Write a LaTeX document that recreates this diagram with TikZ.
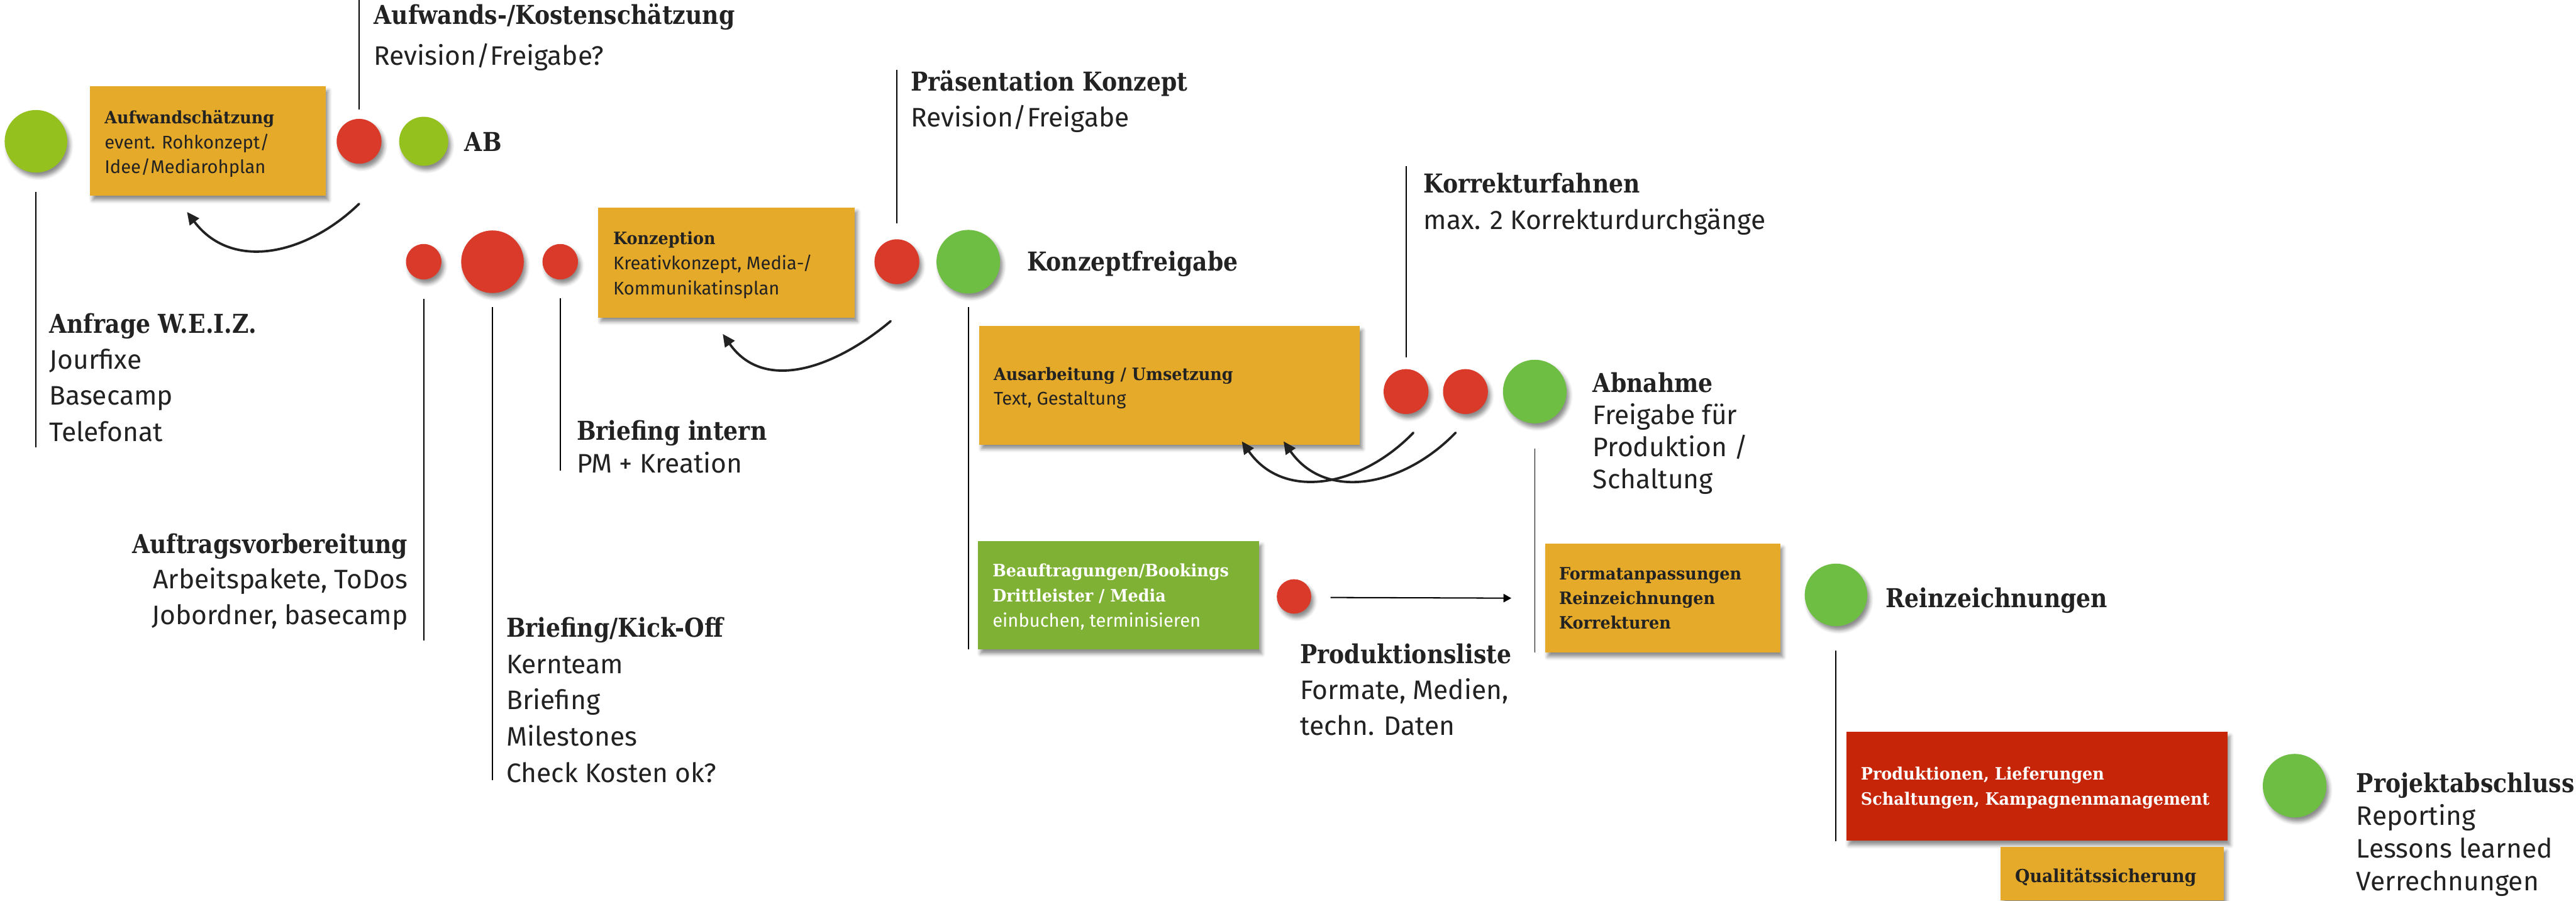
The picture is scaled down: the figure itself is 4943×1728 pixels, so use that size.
\documentclass[tikz,border=0pt]{standalone}
\usepackage{fontspec}
\setmainfont{Fira Sans}
\newfontfamily\headfont[FakeStretch=0.875]{DejaVu Serif}
\newfontfamily\cardfont[FakeStretch=0.94]{DejaVu Serif}
\usetikzlibrary{arrows.meta,shadows.blur,calc}

\definecolor{boxorange}{HTML}{E5AA2A}
\definecolor{dotred}{HTML}{D93A29}
\definecolor{limegreen}{HTML}{95C11F}
\definecolor{dotgreen}{HTML}{6FBE44}
\definecolor{boxgreen}{HTML}{7FB135}
\definecolor{boxred}{HTML}{C62507}
\definecolor{ink}{HTML}{222222}

% stacked lines with a fixed baseline distance; the block's baseline is the first line
\newcommand\rowsl[2]{\vtop{\baselineskip=#1\lineskiplimit=-\maxdimen\lineskip=0pt\halign{##\hfil\cr#2\crcr}}}
\newcommand\rowsr[2]{\vtop{\baselineskip=#1\lineskiplimit=-\maxdimen\lineskip=0pt\halign{\hfil##\cr#2\crcr}}}
\newcommand\hd[1]{{\headfont\bfseries\fontsize{14.2pt}{17pt}\selectfont #1}}
\newcommand\bx[1]{{\cardfont\bfseries\fontsize{9.3pt}{11pt}\selectfont #1}}

\tikzset{
  softshadow/.style={blur shadow={shadow xshift=0.05cm, shadow yshift=-0.08cm,
      shadow blur radius=0.07cm, shadow opacity=45}},
  dot/.style={circle, inner sep=0pt, minimum size=#1, softshadow},
  card/.style={rectangle, inner sep=0pt, anchor=north west, softshadow},
  cardtext/.style={anchor=base west, inner sep=0pt, text=ink,
      font=\fontsize{10pt}{12pt}\selectfont},
  lbl/.style={anchor=base west, inner sep=0pt, text=ink,
      font=\fontsize{14.6pt}{17pt}\selectfont},
  rule/.style={draw=black, line width=0.6pt},
  sketch/.style={draw=ink, line width=1.3pt, line cap=round,
      -{Triangle[length=0.24cm,width=0.22cm]}},
  thinarrow/.style={draw=black, line width=0.7pt,
      -{Triangle[length=0.15cm,width=0.16cm]}}
}

\begin{document}
\begin{tikzpicture}[x=0.01cm, y=-0.01cm]
\useasboundingbox (0,0) rectangle (4943,1728);

% ---- process boxes
\node[card, fill=boxorange, minimum width=4.52cm, minimum height=2.10cm] (b1) at (172,165) {};
\node[card, fill=boxorange, minimum width=4.92cm, minimum height=2.11cm] (b2) at (1147,397) {};
\node[card, fill=boxorange, minimum width=7.30cm, minimum height=2.27cm] (b3) at (1878,625) {};
\node[card, fill=boxgreen,  minimum width=5.39cm, minimum height=2.08cm] (b4) at (1876,1037) {};
\node[card, fill=boxorange, minimum width=4.51cm, minimum height=2.09cm] (b5) at (2964,1042) {};
\node[card, fill=boxred,    minimum width=7.31cm, minimum height=2.09cm] (b6) at (3542,1403) {};
\node[card, fill=boxorange, minimum width=4.28cm, minimum height=1.02cm] (b7) at (3838,1624) {};

% ---- box texts
\node[cardtext] (b1t) at ($(b1.north west)+(28,72)$)
  {\rowsl{0.48cm}{\bx{Aufwandschätzung}\cr event. Rohkonzept/\cr Idee/Mediarohplan}};
\node[cardtext] (b2t) at ($(b2.north west)+(29,72)$)
  {\rowsl{0.48cm}{\bx{Konzeption}\cr Kreativkonzept, Media-/\cr Kommunikatinsplan}};
\node[cardtext] (b3t) at ($(b3.north west)+(28,105)$)
  {\rowsl{0.47cm}{\bx{Ausarbeitung / Umsetzung}\cr Text, Gestaltung}};
\node[cardtext, text=white] (b4t) at ($(b4.north west)+(28,69)$)
  {\rowsl{0.48cm}{\bx{Beauftragungen/Bookings}\cr \bx{Drittleister / Media}\cr einbuchen, terminisieren}};
\node[cardtext] (b5t) at ($(b5.north west)+(27,70)$)
  {\rowsl{0.47cm}{\bx{Formatanpassungen}\cr \bx{Reinzeichnungen}\cr \bx{Korrekturen}}};
\node[cardtext, text=white] (b6t) at ($(b6.north west)+(28,93)$)
  {\rowsl{0.48cm}{\bx{Produktionen, Lieferungen}\cr \bx{Schaltungen, Kampagnenmanagement}}};
\node[cardtext] (b7t) at ($(b7.north west)+(28,68)$)
  {{\cardfont\bfseries\fontsize{9.8pt}{12pt}\selectfont Qualitätssicherung}};

% ---- milestone dots
\node[dot=1.20cm, fill=limegreen] (g1) at (69,271) {};
\node[dot=0.86cm, fill=dotred]    (r1) at (689,271) {};
\node[dot=0.94cm, fill=limegreen] (g2) at (813,271) {};
\node[dot=0.68cm, fill=dotred]    (r2) at (813,502) {};
\node[dot=1.20cm, fill=dotred]    (r3) at (945,502) {};
\node[dot=0.68cm, fill=dotred]    (r4) at (1075,502) {};
\node[dot=0.86cm, fill=dotred]    (r5) at (1721,502) {};
\node[dot=1.22cm, fill=dotgreen]  (g3) at (1858,502) {};
\node[dot=0.86cm, fill=dotred]    (r6) at (2698,751) {};
\node[dot=0.86cm, fill=dotred]    (r7) at (2812,751) {};
\node[dot=1.22cm, fill=dotgreen]  (g4) at (2945,751) {};
\node[dot=0.66cm, fill=dotred]    (r8) at (2483,1144) {};
\node[dot=1.20cm, fill=dotgreen]  (g5) at (3523,1141) {};
\node[dot=1.22cm, fill=dotgreen]  (g6) at (4403,1507) {};

% ---- labels
\node[lbl] (t1) at (717,47) {\rowsl{0.78cm}{\hd{Aufwands-/Kostenschätzung}\cr Revision/Freigabe?}};
\node[lbl] (tab) at (891,290) {\hd{AB}};
\node[lbl] (t2) at (94,639) {\rowsl{0.69cm}{\hd{Anfrage W.E.I.Z.}\cr Jourfixe\cr Basecamp\cr Telefonat}};
\node[lbl, anchor=base east] (t3) at (783,1061)
  {\rowsr{0.685cm}{\hd{Auftragsvorbereitung}\cr Arbeitspakete, ToDos\cr Jobordner, basecamp}};
\node[lbl] (t4) at (1106,844) {\rowsl{0.63cm}{\hd{Briefing intern}\cr PM + Kreation}};
\node[lbl] (t5) at (971,1222)
  {\rowsl{0.695cm}{\hd{Briefing/Kick-Off}\cr Kernteam\cr Briefing\cr Milestones\cr Check Kosten ok?}};
\node[lbl] (t6) at (1747,174) {\rowsl{0.69cm}{\hd{Präsentation Konzept}\cr Revision/Freigabe}};
\node[lbl] (t7) at (1970,520) {\hd{Konzeptfreigabe}};
\node[lbl] (t8) at (2731,370) {\rowsl{0.70cm}{\hd{Korrekturfahnen}\cr max. 2 Korrekturdurchgänge}};
\node[lbl] (t9) at (3056,753)
  {\rowsl{0.613cm}{\hd{Abnahme}\cr Freigabe für\cr Produktion /\cr Schaltung}};
\node[lbl] (t10) at (2494,1273)
  {\rowsl{0.685cm}{\hd{Produktionsliste}\cr Formate, Medien,\cr techn. Daten}};
\node[lbl] (t11) at (3618,1165) {\hd{Reinzeichnungen}};
\node[lbl] (t12) at (4521,1520)
  {\rowsl{0.627cm}{\hd{Projektabschluss}\cr Reporting\cr Lessons learned\cr Verrechnungen}};

% ---- leader lines from the dots to their labels
\draw[rule] ($(g1)+(0,97)$) -- ($(g1)+(0,587)$);
\draw[rule] ($(r1)+(0,-61)$) -- ($(r1)+(0,-271)$);
\draw[rule] ($(r2)+(0,71)$) -- ($(r2)+(0,726)$);
\draw[rule] ($(r3)+(0,87)$) -- ($(r3)+(0,995)$);
\draw[rule] ($(r4)+(0,70)$) -- ($(r4)+(0,401)$);
\draw[rule] ($(r5)+(0,-73)$) -- ($(r5)+(0,-368)$);
\draw[rule] ($(g3)+(0,87)$) -- ($(g3)+(0,743)$);
\draw[rule] ($(r6)+(0,-66)$) -- ($(r6)+(0,-432)$);
\draw[rule] ($(g4)+(0,109)$) -- ($(g4)+(0,500)$);
\draw[rule] ($(g5)+(0,107)$) -- ($(g5)+(0,472)$);

% ---- revision loops
\coordinate (a1s) at ($(r1)+(0,120)$);
\coordinate (a1e) at ($(b1.south)+(-40,30)$);
\draw[sketch] (a1s) to[out=-136, in=-53, looseness=1.1] (a1e);
\coordinate (a2s) at ($(r5)+(-12,114)$);
\coordinate (a2e) at ($(b2.south)+(-7,31)$);
\draw[sketch] (a2s) to[out=-140, in=-55, looseness=1.1] (a2e);
\coordinate (a3s) at ($(r6)+(14,79)$);
\coordinate (a3e) at ($(b3.south)+(139,-7)$);
\draw[sketch] (a3s) to[out=-134, in=-55, looseness=1.1] (a3e);
\coordinate (a4s) at ($(r7)+(-19,79)$);
\coordinate (a4e) at ($(b3.south)+(219,-7)$);
\draw[sketch] (a4s) to[out=-134, in=-55, looseness=1.1] (a4e);

% ---- hand-over to production
\coordinate (p1) at ($(r8)+(70,2)$);
\coordinate (p2) at ($(b5.west)+(-64,0)$);
\draw[thinarrow] (p1) -- (p2);
\end{tikzpicture}
\end{document}
